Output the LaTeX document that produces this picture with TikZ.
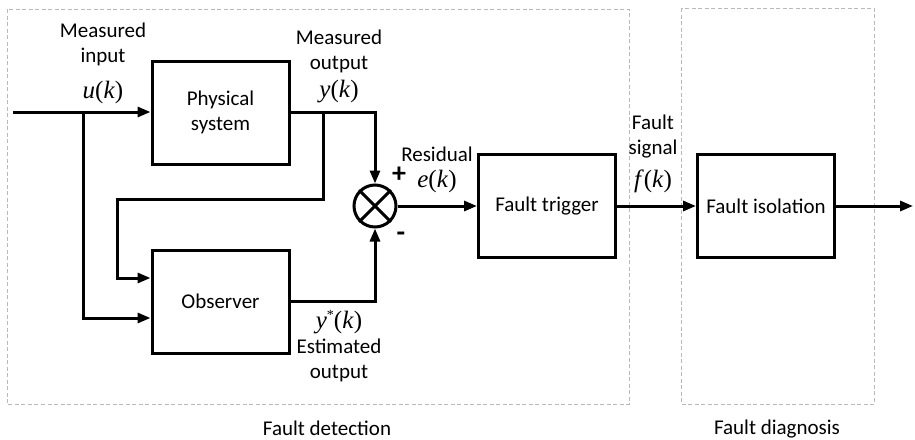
\documentclass[tikz,border=0pt]{standalone}
\usepackage{fontspec}
\setmainfont{Carlito}
\newfontfamily\tms{Liberation Serif}
\newcommand{\sig}[1]{{\tms\itshape #1\/}{\tms(}{\tms\itshape k\/}{\tms)}}
\usetikzlibrary{arrows.meta}
\begin{document}
\begin{tikzpicture}[x=1pt,y=-1pt,
  blk/.style={draw,line width=3pt,minimum width=137pt,minimum height=103pt,inner sep=0pt,font=\fontsize{21}{25}\selectfont,align=center},
  conn/.style={line width=3pt},
  arr/.style={conn,-{Triangle[length=13pt,width=10pt]}},
  lbl/.style={font=\fontsize{21}{25}\selectfont,inner sep=0pt,align=center},
  mth/.style={font=\fontsize{25}{26}\selectfont,inner sep=0pt},
  grp/.style={draw=gray!55,line width=0.9pt,dash pattern=on 4pt off 2.5pt}]
\useasboundingbox (0,0) rectangle (915,439);
% group boxes
\draw[grp] (7,9) rectangle (629,404);
\draw[grp] (681,8) rectangle (874,404);
\node[lbl] (gdet) at (327,428) {Fault detection};
\node[lbl] (gdia) at (777,429) {Fault diagnosis};
% blocks
\node[blk] (ps) at (220.5,112.5) {Physical\\system};
\node[blk] (obs) at (220.5,301.5) {Observer};
\node[blk] (ft) at (547,206) {Fault trigger};
\node[blk] (fi) at (766,206) {Fault isolation};
\node[draw,circle,line width=3pt,minimum size=42pt,inner sep=0pt] (sum) at (375,206) {};
\draw[line width=3pt] (sum.north west) -- (sum.south east) (sum.north east) -- (sum.south west);
% coordinates
\coordinate (in) at (13,112);
\coordinate (b1) at (83,112);
\coordinate (b2) at (323,112);
\coordinate (out) at (913,206);
% connectors
\draw[arr] (in) -- (ps.west |- in);
\draw[arr] (b1) |- (obs.west |- 0,318);
\draw[arr] (ps.east |- b2) -| (sum.north);
\draw[arr] (b2) |- (117,199) |- (obs.west |- 0,278);
\draw[arr] (obs.east) -| (sum.south);
\draw[arr] (sum.east) -- (ft.west);
\draw[arr] (ft.east) -- (fi.west);
\draw[arr] (fi.east) -- (out);
% labels
\node[lbl] (l1) at (103,44) {Measured\\input};
\node[mth] (u) at (103,92) {\sig{u}};
\node[lbl] (l2) at (339,51) {Measured\\output};
\node[mth] (y) at (339,92) {\sig{y}};
\node[lbl] (l3) at (437,154) {Residual};
\node[mth] (e) at (437,181) {\sig{e}};
\node[font=\fontsize{28}{28}\selectfont\bfseries,inner sep=0pt] (plus) at (399,175) {+};
\node[font=\fontsize{28}{28}\selectfont\bfseries,inner sep=0pt] (minus) at (401,237) {-};
\node[lbl] (l4) at (653,137) {Fault\\signal};
\node[mth] (f) at (653,181) {\sig{f}};
\node[mth] (ys) at (339,322) {{\tms\itshape y}\raisebox{9pt}{\fontsize{14}{14}\selectfont\tms *}{\tms(}{\tms\itshape k\/}{\tms)}};
\node[lbl] (l5) at (339,360) {Estimated\\output};
\end{tikzpicture}
\end{document}
